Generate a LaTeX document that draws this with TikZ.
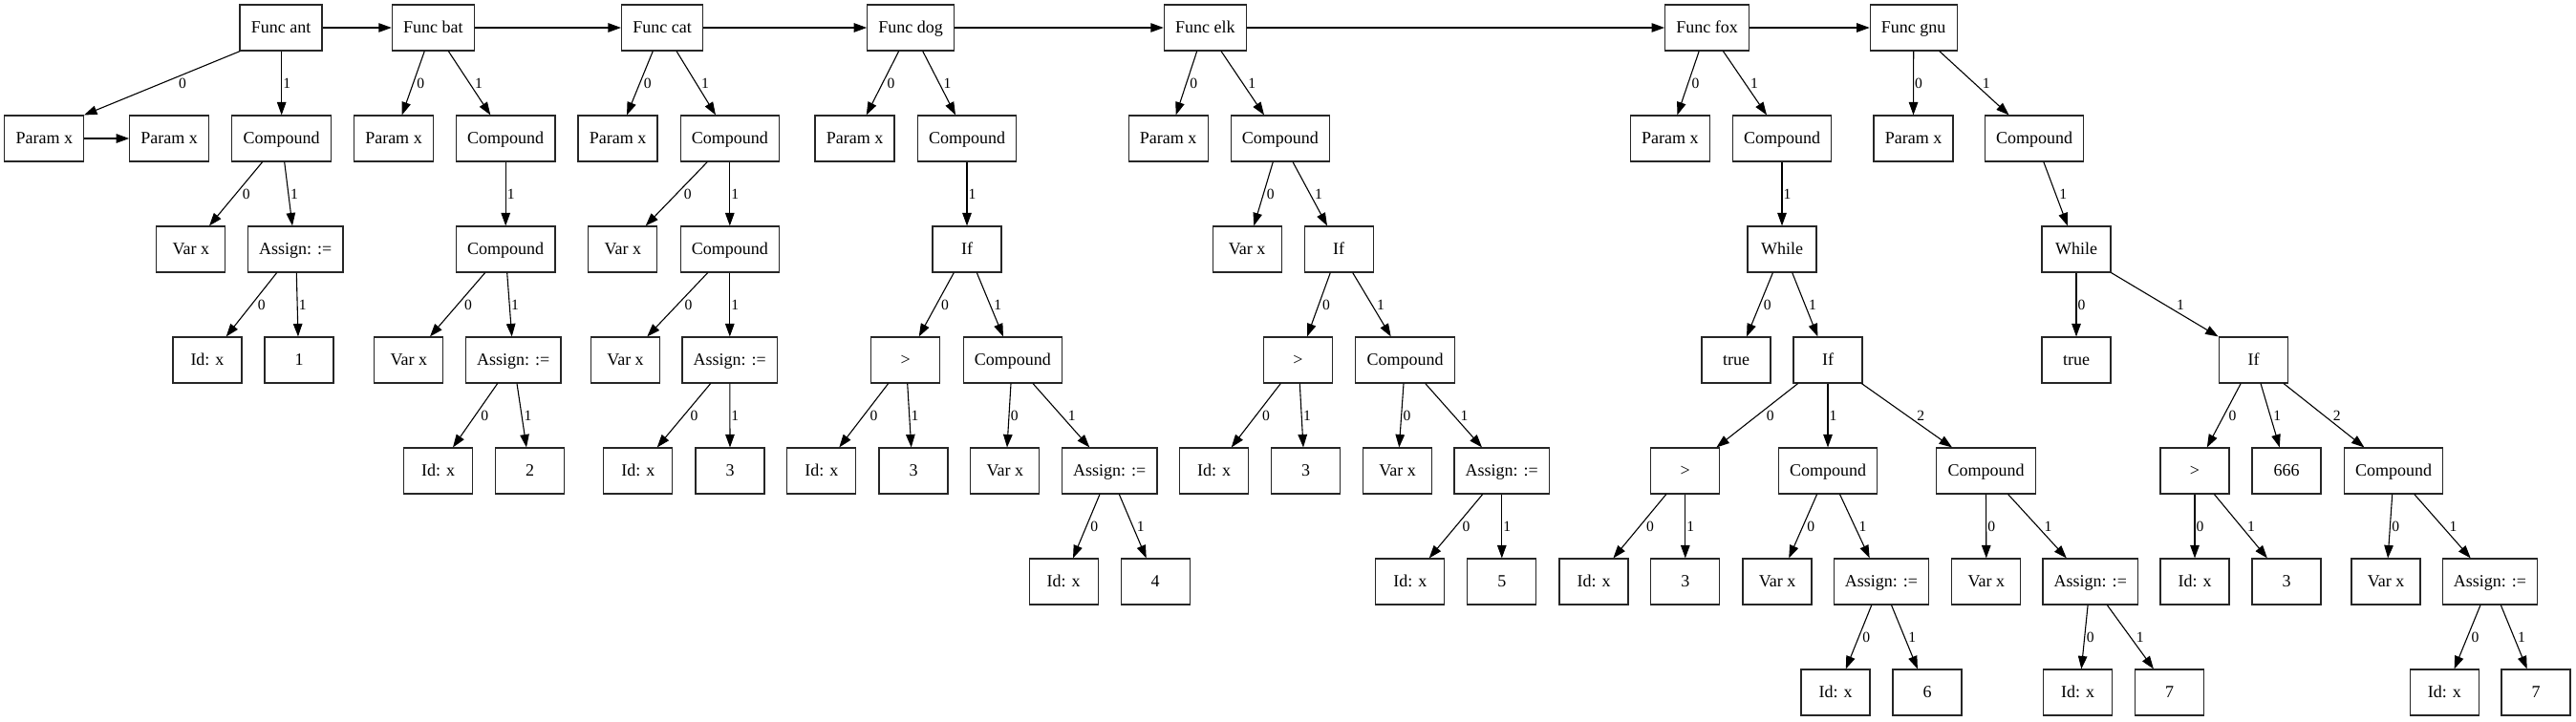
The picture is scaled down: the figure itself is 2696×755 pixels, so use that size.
\documentclass[tikz,border=0pt]{standalone}
\usepackage{fontspec}
\setmainfont{Liberation Serif}
\usetikzlibrary{arrows.meta,calc}
\tikzset{
 box/.style={draw=black!85, line width=1.1pt, rectangle, minimum width=72pt, minimum height=48pt, inner xsep=11.75pt, inner ysep=0pt, text height=12pt, text depth=1pt, font=\fontsize{18}{21.6}\selectfont},
 edge/.style={line width=1.1pt, -{Triangle[length=13.5pt,width=9.5pt]}},
 lbl/.style={inner sep=0pt, anchor=west, font=\fontsize{15.6}{18}\selectfont}
}
\newcommand\tedge[5]{\draw[edge] let \p1=([xshift=#4pt]#1.south), \p2=([xshift=#5pt]#2.north), \n1={abs(\x2-\x1)/(\y1-\y2)*6.5+1} in (\p1) -- node[lbl,xshift=\n1]{#3} (\p2);}
\begin{document}
\begin{tikzpicture}[x=1pt,y=-1pt]
\useasboundingbox (0,0) rectangle (2696,755);
% row 1
\node[box] (ant) at (294,29) {Func ant};
\node[box] (bat) at (453.3,29) {Func bat};
\node[box] (cat) at (693,29) {Func cat};
\node[box] (dog) at (953.2,29) {Func dog};
\node[box] (elk) at (1261.3,29) {Func elk};
\node[box] (fox) at (1786.6,29) {Func fox};
\node[box] (gnu) at (2002.7,29) {Func gnu};
% row 2
\node[box] (pA1) at (46.3,145) {Param x};
\node[box] (pA2) at (177.2,145) {Param x};
\node[box] (cA) at (294.7,145) {Compound};
\node[box] (pB) at (412,145) {Param x};
\node[box] (cB) at (529.2,145) {Compound};
\node[box] (pC) at (646.5,145) {Param x};
\node[box] (cC) at (763.8,145) {Compound};
\node[box] (pD) at (894.5,145) {Param x};
\node[box] (cD) at (1012,145) {Compound};
\node[box] (pE) at (1222.7,145) {Param x};
\node[box] (cE) at (1339.8,145) {Compound};
\node[box] (pF) at (1747.9,145) {Param x};
\node[box] (cF) at (1865,145) {Compound};
\node[box] (pG) at (2002.5,145) {Param x};
\node[box] (cG) at (2129,145) {Compound};
% row 3
\node[box] (vA) at (199.8,261) {Var x};
\node[box] (aA) at (309.2,261) {Assign: :=};
\node[box] (cB2) at (529.2,261) {Compound};
\node[box] (vC) at (651.8,261) {Var x};
\node[box] (cC2) at (763.8,261) {Compound};
\node[box] (ifD) at (1012,261) {If};
\node[box] (vE) at (1305.2,261) {Var x};
\node[box] (ifE) at (1401.2,261) {If};
\node[box] (wF) at (1865,261) {While};
\node[box] (wG) at (2173,261) {While};
% row 4
\node[box] (idA) at (217,377) {Id: x};
\node[box] (nA) at (313,377) {1};
\node[box] (vB) at (427.8,377) {Var x};
\node[box] (aB) at (537.2,377) {Assign: :=};
\node[box] (vC2) at (654.5,377) {Var x};
\node[box] (aC) at (763.8,377) {Assign: :=};
\node[box] (gtD) at (947.8,377) {>};
\node[box] (cD2) at (1059.8,377) {Compound};
\node[box] (gtE) at (1358.5,377) {>};
\node[box] (cE2) at (1470.5,377) {Compound};
\node[box] (tF) at (1817,377) {true};
\node[box] (ifF) at (1913,377) {If};
\node[box] (tG) at (2173,377) {true};
\node[box] (ifG) at (2358.5,377) {If};
% row 5
\node[box] (idB) at (458.5,493) {Id: x};
\node[box] (nB) at (554.7,493) {2};
\node[box] (idC) at (667.8,493) {Id: x};
\node[box] (nC) at (764,493) {3};
\node[box] (idD) at (859.8,493) {Id: x};
\node[box] (n3D) at (956,493) {3};
\node[box] (vD) at (1051.8,493) {Var x};
\node[box] (aD) at (1161.2,493) {Assign: :=};
\node[box] (idE) at (1270.7,493) {Id: x};
\node[box] (n3E) at (1366.5,493) {3};
\node[box] (vE2) at (1462.5,493) {Var x};
\node[box] (aE) at (1571.8,493) {Assign: :=};
\node[box] (gtF) at (1763.8,493) {>};
\node[box] (cF1) at (1913,493) {Compound};
\node[box] (cF2) at (2078.5,493) {Compound};
\node[box] (gtG) at (2297,493) {>};
\node[box] (n666) at (2393,493) {666};
\node[box] (cG2) at (2505,493) {Compound};
% row 6
\node[box] (idD2) at (1113.2,609) {Id: x};
\node[box] (n4) at (1209.2,609) {4};
\node[box] (idE2) at (1475.8,609) {Id: x};
\node[box] (n5) at (1571.8,609) {5};
\node[box] (idF) at (1668,609) {Id: x};
\node[box] (n3F) at (1763.8,609) {3};
\node[box] (vF) at (1860,609) {Var x};
\node[box] (aF) at (1969,609) {Assign: :=};
\node[box] (vF2) at (2078.8,609) {Var x};
\node[box] (aF2) at (2187.8,609) {Assign: :=};
\node[box] (idG) at (2297,609) {Id: x};
\node[box] (n3G) at (2393,609) {3};
\node[box] (vG) at (2497,609) {Var x};
\node[box] (aG) at (2606,609) {Assign: :=};
% row 7
\node[box] (idF2) at (1921,725) {Id: x};
\node[box] (n6) at (2017,725) {6};
\node[box] (idF3) at (2174.5,725) {Id: x};
\node[box] (n7a) at (2270.6,725) {7};
\node[box] (idG2) at (2558.4,725) {Id: x};
\node[box] (n7b) at (2654,725) {7};
% chain
\draw[edge] (ant) -- (bat);
\draw[edge] (bat) -- (cat);
\draw[edge] (cat) -- (dog);
\draw[edge] (dog) -- (elk);
\draw[edge] (elk) -- (fox);
\draw[edge] (fox) -- (gnu);
\draw[edge] (pA1) -- (pA2);
% ant
\tedge{ant}{pA1}{0}{-42.7}{41.7}
\tedge{ant}{cA}{1}{0.7}{0}
\tedge{cA}{vA}{0}{-20}{19.2}
\tedge{cA}{aA}{1}{3}{-3.2}
\tedge{aA}{idA}{0}{-19.5}{19.7}
\tedge{aA}{nA}{1}{1.1}{-1}
% bat
\tedge{bat}{pB}{0}{-9}{8.7}
\tedge{bat}{cB}{1}{16}{-15.9}
\tedge{cB}{cB2}{1}{0}{0}
\tedge{cB2}{vB}{0}{-21.5}{22.2}
\tedge{cB2}{aB}{1}{1.5}{-1.5}
\tedge{aB}{idB}{0}{-16.5}{15.5}
\tedge{aB}{nB}{1}{3.8}{-3.7}
% cat
\tedge{cat}{pC}{0}{-9.7}{9.5}
\tedge{cat}{cC}{1}{15}{-14.8}
\tedge{cC}{vC}{0}{-23.5}{23.9}
\tedge{cC}{cC2}{1}{0}{0}
\tedge{cC2}{vC2}{0}{-23.1}{22.8}
\tedge{cC2}{aC}{1}{0}{0}
\tedge{aC}{idC}{0}{-20.1}{19.9}
\tedge{aC}{nC}{1}{0}{0}
% dog
\tedge{dog}{pD}{0}{-12.5}{12.2}
\tedge{dog}{cD}{1}{12.5}{-12}
\tedge{cD}{ifD}{1}{0}{0}
\tedge{ifD}{gtD}{0}{-13.7}{13.9}
\tedge{ifD}{cD2}{1}{10.3}{-9.8}
\tedge{gtD}{idD}{0}{-18.1}{18.5}
\tedge{gtD}{n3D}{1}{1.9}{-2.3}
\tedge{cD2}{vD}{0}{-1.8}{2.2}
\tedge{cD2}{aD}{1}{21.2}{-20.9}
\tedge{aD}{idD2}{0}{-10.2}{9.8}
\tedge{aD}{n4}{1}{10.1}{-9.5}
% elk
\tedge{elk}{pE}{0}{-8.6}{8}
\tedge{elk}{cE}{1}{16.7}{-16.8}
\tedge{cE}{vE}{0}{-7.5}{7.1}
\tedge{cE}{ifE}{1}{13.2}{-12.2}
\tedge{ifE}{gtE}{0}{-8.9}{9.5}
\tedge{ifE}{cE2}{1}{14.5}{-14.8}
\tedge{gtE}{idE}{0}{-18.2}{18}
\tedge{gtE}{n3E}{1}{1.8}{-2.5}
\tedge{cE2}{vE2}{0}{-1.5}{1.8}
\tedge{cE2}{aE}{1}{21.2}{-20.8}
\tedge{aE}{idE2}{0}{-20.1}{19.9}
\tedge{aE}{n5}{1}{0}{0}
% fox
\tedge{fox}{pF}{0}{-8.4}{7.5}
\tedge{fox}{cF}{1}{16.8}{-16}
\tedge{cF}{wF}{1}{0}{0}
\tedge{wF}{tF}{0}{-9.6}{11}
\tedge{wF}{ifF}{1}{10.7}{-10.6}
\tedge{ifF}{gtF}{0}{-31.3}{32.6}
\tedge{ifF}{cF1}{1}{0}{0}
\tedge{ifF}{cF2}{2}{35.3}{-35.5}
\tedge{gtF}{idF}{0}{-20}{20.4}
\tedge{gtF}{n3F}{1}{0}{0}
\tedge{cF1}{vF}{0}{-11.4}{12.2}
\tedge{cF1}{aF}{1}{12.5}{-12.3}
\tedge{aF}{idF2}{0}{-10.2}{10.8}
\tedge{aF}{n6}{1}{10.5}{-10.1}
\tedge{cF2}{vF2}{0}{0}{0}
\tedge{cF2}{aF2}{1}{23.1}{-25}
\tedge{aF2}{idF3}{0}{-2.7}{3.8}
\tedge{aF2}{n7a}{1}{17.5}{-16.7}
% gnu
\tedge{gnu}{pG}{0}{0}{0}
\tedge{gnu}{cG}{1}{27}{-26.4}
\tedge{cG}{wG}{1}{9.8}{-9.1}
\tedge{wG}{tG}{0}{0}{0}
\tedge{wG}{ifG}{1}{36.5}{-36.9}
\tedge{ifG}{gtG}{0}{-13.3}{12.8}
\tedge{ifG}{n666}{1}{7.5}{-7.2}
\tedge{ifG}{cG2}{2}{31.5}{-30.6}
\tedge{gtG}{idG}{0}{0}{0}
\tedge{gtG}{n3G}{1}{20.4}{-20.1}
\tedge{cG2}{vG}{0}{-1.3}{2.1}
\tedge{cG2}{aG}{1}{21.8}{-20.3}
\tedge{aG}{idG2}{0}{-10}{10.2}
\tedge{aG}{n7b}{1}{11.3}{-9.3}
\end{tikzpicture}
\end{document}
